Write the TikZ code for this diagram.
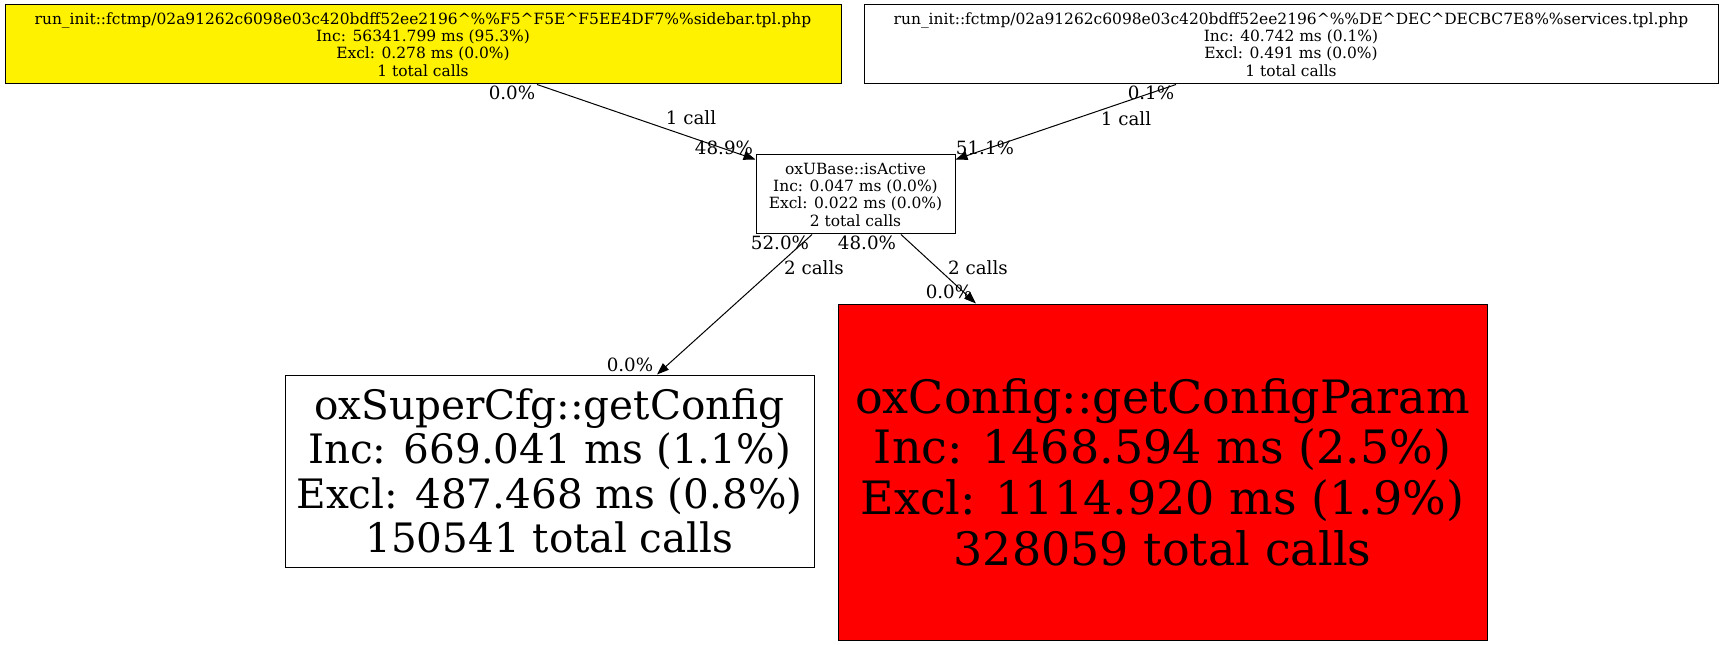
\documentclass[tikz,border=0pt]{standalone}
\usepackage{fontspec}
\setmainfont{DejaVu Serif}
\usetikzlibrary{arrows.meta}
\begin{document}
\begin{tikzpicture}[x=0.75pt,y=-0.75pt,
		fn/.style={draw,line width=0.75pt,inner sep=0pt,align=center},
		small/.style={font=\fontsize{11.6}{13}\selectfont},
		lbl/.style={inner sep=0pt,font=\fontsize{13.7}{15}\selectfont},
		call/.style={line width=0.75pt,-{Triangle[length=9pt,width=6.5pt]}}]
		\useasboundingbox (0,0) rectangle (1723,645);
		\node[fn,small,fill=yellow,minimum width=627pt,minimum height=59.25pt] (side) at (423,44.5)
			{run\_init::fctmp/02a91262c6098e03c420bdff52ee2196\textasciicircum\%\%F5\textasciicircum F5E\textasciicircum F5EE4DF7\%\%sidebar.tpl.php\\Inc: 56341.799 ms (95.3\%)\\Excl: 0.278 ms (0.0\%)\\1 total calls};
		\node[fn,small,minimum width=640.5pt,minimum height=59.25pt] (serv) at (1291,44.5)
			{run\_init::fctmp/02a91262c6098e03c420bdff52ee2196\textasciicircum\%\%DE\textasciicircum DEC\textasciicircum DECBC7E8\%\%services.tpl.php\\Inc: 40.742 ms (0.1\%)\\Excl: 0.491 ms (0.0\%)\\1 total calls};
		\node[fn,small,minimum width=149.25pt,minimum height=59.25pt] (active) at (855.5,194.5)
			{oxUBase::isActive\\Inc: 0.047 ms (0.0\%)\\Excl: 0.022 ms (0.0\%)\\2 total calls};
		\node[fn,font=\fontsize{30.4}{33.3}\selectfont,minimum width=396.75pt,minimum height=144pt] (scfg) at (549.5,471)
			{oxSuperCfg::getConfig\\Inc: 669.041 ms (1.1\%)\\Excl: 487.468 ms (0.8\%)\\150541 total calls};
		\node[fn,fill=red,font=\fontsize{34.5}{38}\selectfont,minimum width=486.75pt,minimum height=252pt] (cparam) at (1162.5,472)
			{oxConfig::getConfigParam\\Inc: 1468.594 ms (2.5\%)\\Excl: 1114.920 ms (1.9\%)\\328059 total calls};
		\draw[call] ([xshift=85.5pt]side.south) -- ([yshift=-3.75pt]active.north west);
		\draw[call] ([xshift=-86.25pt]serv.south) -- ([yshift=-3.75pt]active.north east);
		\draw[call] ([xshift=-32.6pt]active.south) -- ([xshift=80.6pt]scfg.north);
		\draw[call] ([xshift=34.1pt]active.south) -- ([xshift=-139.9pt]cparam.north);
		\node[lbl] (p1) at (512,93) {0.0\%};
		\node[lbl] (c1) at (691,118) {1 call};
		\node[lbl] (q1) at (724,148) {48.9\%};
		\node[lbl] (p2) at (1151,93) {0.1\%};
		\node[lbl] (c2) at (1126,119) {1 call};
		\node[lbl] (q2) at (985,148) {51.1\%};
		\node[lbl] (p3) at (780,243) {52.0\%};
		\node[lbl] (c3) at (814,268) {2 calls};
		\node[lbl] (q3) at (630,365) {0.0\%};
		\node[lbl] (p4) at (867,243) {48.0\%};
		\node[lbl] (c4) at (978,268) {2 calls};
		\node[lbl] (q4) at (949,292) {0.0\%};
	\end{tikzpicture}
\end{document}
